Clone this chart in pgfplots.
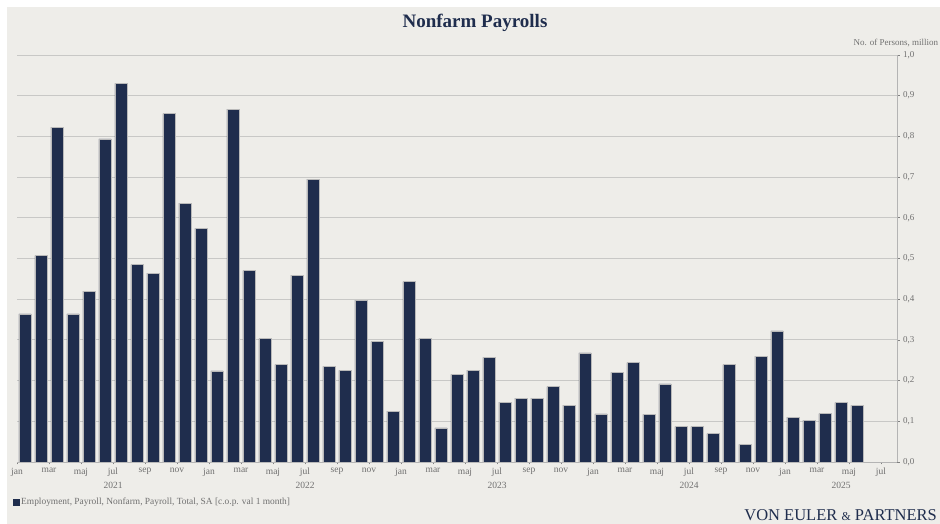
\documentclass[border=0pt]{standalone}
\usepackage{fontspec}
\setmainfont{Liberation Serif}
\usepackage{pgfplots}
\pgfplotsset{compat=1.18}
\definecolor{bg}{HTML}{EEEDE9}
\definecolor{navy}{HTML}{1F2D4D}
\definecolor{gridc}{HTML}{C8C8C6}
\definecolor{txt}{HTML}{707070}
\definecolor{axc}{HTML}{B4B4B4}
\begin{document}
\begin{tikzpicture}[x=1pt,y=1pt]
\useasboundingbox (0,0) rectangle (940,524);
\fill[white] (0,0) rectangle (940,524);
\fill[bg] (7,0) rectangle (940,517);
\node[font=\fontsize{19}{22}\selectfont\bfseries, text=navy] at (475,501) {Nonfarm Payrolls};
\node[anchor=west, font=\fontsize{9}{10}\selectfont, text=txt] at (850,481) {No. of Persons, million};
\fill[navy] (13,18) rectangle (19.5,24.5);
\node[anchor=west, font=\fontsize{9.4}{10}\selectfont, text=txt, inner sep=0pt] at (21,21.5) {Employment, Payroll, Nonfarm, Payroll, Total, SA [c.o.p. val 1 month]};
\node[anchor=base east, font=\fontsize{16.5}{18}\selectfont, text=navy, inner sep=0pt] at (937,3.5) {VON EULER {\fontsize{12}{14}\selectfont\&} PARTNERS};
\begin{axis}[
  at={(17pt,62pt)}, anchor=south west,
  scale only axis, width=880pt, height=407pt,
  xmin=0, xmax=55, ymin=0, ymax=1,
  axis x line*=bottom, axis y line*=right,
  axis line style={axc, line width=0.8pt},
  ytick={0,0.1,0.2,0.3,0.4,0.5,0.6,0.7,0.8,0.9,1.0},
  ymajorgrids, grid style={gridc, line width=0.9pt},
  /pgf/number format/fixed, /pgf/number format/fixed zerofill, /pgf/number format/precision=1, /pgf/number format/use comma, /pgf/number format/assume math mode=true,
  yticklabel style={font=\fontsize{9}{10}\selectfont, text=txt},
  xtick={0,2,...,54},
  xticklabels={jan,mar,maj,jul,sep,nov,jan,mar,maj,jul,sep,nov,jan,mar,maj,jul,sep,nov,jan,mar,maj,jul,sep,nov,jan,mar,maj,jul},
  xticklabel style={font=\fontsize{9.5}{10}\selectfont, text=txt},
  tick align=outside, major tick length=2.5pt,
  tick style={gray, line width=0.7pt},
  clip=false,
]
\addplot[ybar, bar width=12.2pt, fill=navy, draw=gray!55, line width=0.6pt] coordinates {
(0.5,0.364) (1.5,0.507) (2.5,0.823) (3.5,0.364) (4.5,0.420) (5.5,0.794)
(6.5,0.930) (7.5,0.485) (8.5,0.464) (9.5,0.856) (10.5,0.636) (11.5,0.574)
(12.5,0.224) (13.5,0.867) (14.5,0.470) (15.5,0.303) (16.5,0.239) (17.5,0.459)
(18.5,0.695) (19.5,0.235) (20.5,0.225) (21.5,0.398) (22.5,0.296) (23.5,0.125)
(24.5,0.443) (25.5,0.304) (26.5,0.084) (27.5,0.215) (28.5,0.226) (29.5,0.257)
(30.5,0.147) (31.5,0.157) (32.5,0.157) (33.5,0.185) (34.5,0.140) (35.5,0.268)
(36.5,0.118) (37.5,0.220) (38.5,0.244) (39.5,0.117) (40.5,0.192) (41.5,0.087)
(42.5,0.087) (43.5,0.070) (44.5,0.239) (45.5,0.043) (46.5,0.260) (47.5,0.322)
(48.5,0.110) (49.5,0.102) (50.5,0.119) (51.5,0.146) (52.5,0.139)
};
\foreach \xx/\yy in {6/2021,18/2022,30/2023,42/2024,51.5/2025}{
  \edef\tmp{\noexpand\node[font=\noexpand\fontsize{9.5}{10}\noexpand\selectfont, text=txt] at (axis cs:\xx,0) [yshift=-23pt] {\yy};}
  \tmp
}
\end{axis}
\end{tikzpicture}
\end{document}
